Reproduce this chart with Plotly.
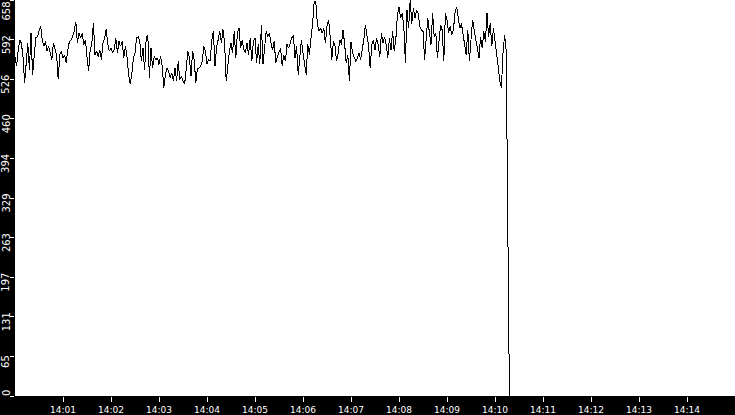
import pandas as pd
import plotly.graph_objects as go

# ---- data ----
start_time = "2024-01-01 14:00:00"
sample_interval = "2s"

values = [
    564, 548, 575, 592, 586, 564, 520, 559, 586, 542, 603, 534, 570, 595, 597, 606, 615, 592, 581, 589,
    573, 581, 567, 559, 586, 578, 567, 526, 567, 573, 562, 567, 553, 575, 589, 592, 597, 606, 622,
    586, 603, 595, 603, 584, 592, 564, 540, 575, 586, 619, 567, 573, 564, 575, 559, 586, 595, 609, 584,
    573, 578, 570, 575, 595, 570, 589, 581, 589, 562, 581, 564, 534, 518, 534, 562, 570, 595,
    597, 589, 556, 578, 542, 595, 600, 529, 578, 545, 564, 559, 562, 551, 564, 548, 512, 534, 545, 540,
    529, 537, 523, 545, 523, 556, 526, 531, 523, 518, 542, 573, 562, 531, 573, 559, 520, 545,
    545, 548, 556, 581, 573, 551, 559, 556, 592, 606, 548, 581, 592, 606, 586, 609, 586, 523, 548, 573,
    586, 570, 606, 562, 603, 611, 578, 592, 575, 570, 586, 567, 595, 556, 589, 595, 553, 584,
    551, 617, 551, 581, 606, 597, 603, 586, 575, 589, 553, 564, 570, 578, 548, 567, 556, 584, 578, 589,
    595, 600, 562, 581, 534, 562, 592, 570, 551, 534, 584, 567, 595, 619, 655, 655, 617, 606, 611,
    603, 611, 586, 614, 625, 597, 559, 589, 581, 556, 570, 592, 584, 608, 586, 553, 567, 523, 589, 570,
    564, 556, 562, 570, 559, 575, 592, 617, 600, 581, 545, 584, 592, 575, 595, 584, 564, 603, 586, 597,
    584, 562, 595, 575, 606, 573, 592, 633, 647, 628, 636, 614, 553, 641, 611, 658, 619, 644, 628, 641,
    636, 614, 608, 606, 559, 600, 628, 603, 584, 636, 597, 603, 562, 589, 617, 608, 556, 636, 625,
    603, 614, 600, 608, 636, 647, 630, 611, 619, 603, 586, 567, 608, 556, 592, 625, 608, 592, 581,
    562, 597, 578, 606, 589, 636, 597, 619, 581, 611, 592, 567, 548, 523, 512, 570, 600, 573, 286, 0,
]

y_max = 658
y_tick_labels = ["0", "65", "131", "197", "263", "329", "394", "460", "526", "592", "658"]
x_tick_labels = ["14:01", "14:02", "14:03", "14:04", "14:05", "14:06", "14:07",
                 "14:08", "14:09", "14:10", "14:11", "14:12", "14:13", "14:14"]
x_range = ["2024-01-01 14:00:00", "2024-01-01 14:15:00"]

# ---- build ----
times = pd.date_range(start=start_time, periods=len(values), freq=sample_interval)
y_tick_vals = [y_max * i / (len(y_tick_labels) - 1) for i in range(len(y_tick_labels))]
x_tick_vals = [pd.Timestamp("2024-01-01 " + t) for t in x_tick_labels]

fig = go.Figure()
fig.add_trace(go.Scatter(
    x=times, y=values, mode="lines",
    line=dict(color="black", width=1),
    hoverinfo="skip", showlegend=False,
))

xfont = dict(family="DejaVu Sans", size=9, color="white")
yfont = dict(family="DejaVu Sans", size=10, color="white")

# y tick labels as rotated annotations (placed just below each tick, like the reference)
n = len(y_tick_labels)
for i, (v, t) in enumerate(zip(y_tick_vals, y_tick_labels)):
    if i == 0:
        anchor, shift = "bottom", 0
    elif i == n - 1:
        anchor, shift = "top", -2
    else:
        anchor, shift = "middle", -5.5
    fig.add_annotation(
        x=0, xref="paper", xanchor="center", xshift=-9,
        y=v, yref="y", yanchor=anchor, yshift=shift,
        text=t, textangle=-90, showarrow=False, font=yfont,
        borderpad=0, borderwidth=0,
    )

fig.update_layout(
    width=735, height=415,
    margin=dict(l=15, r=0, t=0, b=16, pad=0),
    paper_bgcolor="black", plot_bgcolor="white",
    font=xfont,
    showlegend=False,
    xaxis=dict(
        range=x_range, type="date",
        tickmode="array", tickvals=x_tick_vals, ticktext=x_tick_labels,
        ticks="outside", ticklen=5, tickcolor="white", tickwidth=1,
        showgrid=False, zeroline=False, showline=False,
        tickfont=xfont, fixedrange=True,
    ),
    yaxis=dict(
        range=[0, y_max],
        tickmode="array", tickvals=y_tick_vals,
        showticklabels=False,
        ticks="outside", ticklen=4, tickcolor="white", tickwidth=1,
        showgrid=False, zeroline=False, showline=False,
        fixedrange=True,
    ),
)

post = (
    "document.body.style.margin='0';"
    "document.body.style.padding='0';"
    "document.body.style.overflow='hidden';"
    "document.querySelectorAll('.scatterlayer path').forEach(function(p){p.style.shapeRendering='crispEdges';});"
)
fig.write_html("out.html", config={"displayModeBar": False}, post_script=post)
